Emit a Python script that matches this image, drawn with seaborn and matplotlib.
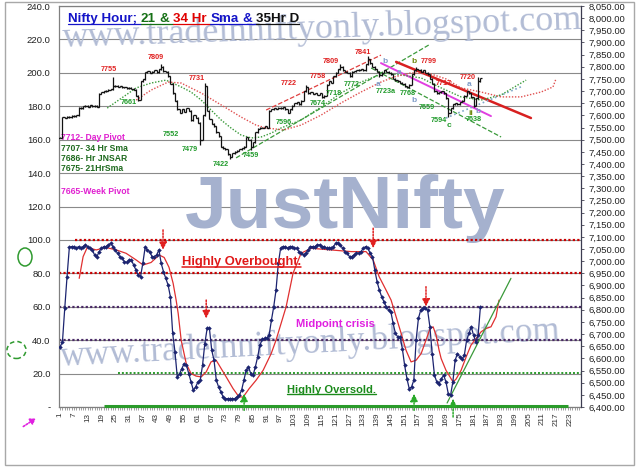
import numpy as np
import pandas as pd
import matplotlib
matplotlib.use("Agg")
import matplotlib.pyplot as plt
import seaborn as sns
from matplotlib import font_manager
from matplotlib.lines import Line2D
from matplotlib.patches import Ellipse, Rectangle, FancyArrowPatch

# hourly Nifty closes, one per bar (right axis)
close = [7507, 7593, 7590, 7595, 7592, 7598, 7596, 7600, 7632, 7630,
         7638, 7640, 7636, 7642, 7638, 7640, 7636, 7688, 7695, 7700,
         7702, 7706, 7708, 7720, 7722, 7718, 7720, 7716, 7715, 7712,
         7714, 7710, 7706, 7680, 7665, 7740, 7748, 7778, 7782, 7775,
         7780, 7785, 7778, 7790, 7800, 7782, 7780, 7760, 7730, 7690,
         7660, 7625, 7610, 7625, 7615, 7630, 7620, 7580, 7600, 7590,
         7570, 7500, 7600, 7720, 7620, 7585, 7565, 7555, 7530, 7515,
         7470, 7465, 7460, 7440, 7430, 7445, 7450, 7455, 7460, 7465,
         7470, 7510, 7500, 7470, 7490, 7530, 7545, 7550, 7548, 7555,
         7550, 7620, 7625, 7630, 7628, 7632, 7630, 7634, 7626, 7610,
         7625, 7640, 7650, 7655, 7645, 7660, 7700, 7715, 7690, 7695,
         7688, 7692, 7685, 7690, 7675, 7680, 7725, 7740, 7735, 7760,
         7775, 7790, 7800, 7785, 7780, 7775, 7760, 7780, 7782, 7785,
         7788, 7790, 7785, 7810, 7830, 7815, 7800, 7790, 7780, 7765,
         7775, 7785, 7780, 7775, 7770, 7750, 7745, 7740, 7735, 7730,
         7720, 7715, 7725, 7770, 7785, 7790, 7788, 7780, 7785, 7775,
         7770, 7750, 7730, 7700, 7690, 7695, 7700, 7690, 7670, 7610,
         7630, 7645, 7650, 7645, 7655, 7660, 7680, 7700, 7690, 7675,
         7640, 7670, 7740, 7752]
# long wicks
wick_hi_bar = [24, 45, 64, 108, 123, 135, 156, 183]
wick_hi_val = [7755, 7809, 7731, 7722, 7809, 7841, 7799, 7755]
wick_lo_bar = [35, 62, 75, 84, 115, 140, 170, 181]
wick_lo_val = [7661, 7479, 7422, 7459, 7674, 7758, 7594, 7638]

# oscillator (left axis), one per bar
osc = [36, 39, 59, 78, 95.5, 96, 96, 95, 96, 95,
       96, 97, 96, 95, 94, 91, 90, 93, 95, 96,
       96, 97, 98, 96, 94, 92, 90, 89, 87, 86.5,
       88, 88, 85, 82, 79, 78, 86, 95.5, 94, 93,
       90, 90, 91, 94, 86, 81, 77, 73, 66, 44,
       33, 18, 20, 23, 26, 25, 20, 15, 10, 12,
       15, 16, 25, 38, 47, 47, 34, 28, 16, 12,
       9, 6, 5, 5, 5, 5, 5, 6, 7, 10,
       16, 22, 24, 20, 19, 24, 30, 37, 40.5, 41,
       41, 43, 52, 60, 70, 86, 95, 96, 96, 95,
       96, 96, 95, 95, 93, 92, 91, 92, 94, 96,
       96, 96, 97, 97, 96, 96, 95, 95, 95, 96,
       98, 98, 97, 95, 93, 92, 90, 90, 91, 92,
       92, 93, 95, 96, 95, 92, 90, 82, 75, 70,
       66, 63, 60, 58, 57, 50, 44, 42, 42, 35,
       25, 17, 11, 12, 16, 40, 53, 58, 59, 59,
       58, 48, 32, 19, 15, 14, 17, 19, 15, 8,
       7, 15, 28, 32, 30, 28.5, 31, 40, 44, 48,
       43, 39, 43, 60]

# smoothed signal of the oscillator
sig_x = [9.3, 11, 12.8, 16.7, 21, 25.4, 29.7, 34.1, 37.1, 40.6, 44.1, 46.3, 48.4,
         50.2, 51.5, 52.4, 53.7, 55.9, 58, 60.2, 62.4, 64.6, 66.7, 68.9, 69.8, 73.3,
         76.3, 78.9, 80.7, 83.3, 86.3, 89.4, 92.9, 95, 97.2, 99.4, 102.4, 105.9, 110.3,
         119, 127.7, 134.2, 137.3, 139.9, 142.9, 145.1, 147.3, 149.5, 151.6, 153.8, 156,
         158.2, 160.3, 162.1, 163.4, 164.7, 166, 166.9, 169, 171.2, 172.1, 173.4, 175.6,
         177.8, 179.9, 182.1, 184.3, 186.5, 188.6, 190.8, 192.1]
sig_v = [77, 90, 95.5, 94, 95.5, 94, 92, 88, 85, 86.5, 91, 89.5, 83.6,
         74, 64, 56, 40, 26, 20, 18.5, 18, 21, 27, 28, 26, 18,
         11, 6, 6, 11, 16, 22, 32, 40, 50, 60, 80, 92, 95,
         94, 93, 93, 88, 78, 70, 64, 54, 44, 34, 27, 28,
         32, 40, 47, 48, 43, 34, 29, 22, 17, 15, 16.7, 22,
         30, 37, 41, 45, 47, 48, 54, 64]

# hourly moving averages (right axis)
sma21_x = [21.5, 34.1, 40.6, 47.1, 53.7, 58.0, 62.4, 66.7, 71.1, 75.4, 79.8, 84.2, 88.5,
           92.9, 97.2, 105.9, 114.6, 123.3, 132.0, 142.1, 149.5, 158.2, 166.9, 175.6,
           184.3, 193.0, 201.7, 203.9]
sma21_p = [7630, 7713, 7733, 7745, 7717, 7696, 7663, 7622, 7581, 7548, 7519, 7507, 7511,
           7527, 7548, 7581, 7634, 7692, 7737, 7774, 7766, 7754, 7713, 7676,
           7663, 7684, 7733, 7745]
sma34_x = [34.1, 40.6, 48.0, 53.7, 62.4, 71.1, 79.8, 86.3, 90.7, 98.5, 105.9, 114.6, 123.3,
           132.0, 140.7, 146.4, 153.8, 162.5, 169.0, 175.6, 184.3, 193.0, 201.7, 210.4,
           215.6, 216.9]
sma34_p = [7663, 7704, 7737, 7733, 7692, 7643, 7593, 7560, 7548, 7540, 7560, 7601, 7651,
           7696, 7737, 7758, 7775, 7770, 7750, 7713, 7696, 7676, 7676, 7696,
           7717, 7750]

# trend lines on the price pane
tl_x0 = [90.7, 77.6, 140.7, 147.3, 136.4, 169.0]
tl_p0 = [7622, 7425, 7815, 7820, 7795, 7589]
tl_x1 = [140.7, 161.6, 188.6, 206.0, 193.0, 202.6]
tl_p1 = [7848, 7890, 7597, 7589, 7511, 7721]
tl_color = ["#e04040", "#3a9a3a", "#e040e0", "#d82020", "#3a9a3a", "#7fa8c8"]
tl_style = ["--", "--", "-", "-", "--", ":"]
tl_width = [0.9, 0.9, 1.4, 1.8, 0.9, 1.2]

# price labels
lab_text = ["7755", "7809", "7731", "7661", "7552", "7479", "7422", "7459", "7596", "7722",
            "7674", "7758", "7718", "7809", "7772", "7841", "a", "b", "7723a", "7768",
            "b", "b", "7799", "7717", "7659", "7594", "c", "7720", "a", "ii", "b", "7638", "a"]
lab_x = [22.3, 42.8, 60.6, 31, 49.3, 57.6, 71, 84.2, 98.5, 100.7,
         113.3, 113.3, 120.3, 119, 128.1, 132.9, 139.4, 142.5, 142.9, 152.5,
         155.2, 155.1, 161.6, 168.2, 160.8, 166, 170.3, 178.6, 179, 179.9, 182.9, 181.2, 148.6]
lab_p = [7787, 7840, 7750, 7651, 7523, 7461, 7396, 7433, 7569, 7733,
         7647, 7758, 7692, 7820, 7725, 7857, 7725, 7820, 7700, 7688,
         7660, 7820, 7820, 7733, 7634, 7577, 7560, 7754, 7729, 7606, 7614, 7581, 7778]
lab_kind = ["r", "r", "r", "g", "g", "g", "g", "g", "g", "r",
            "g", "r", "g", "r", "g", "r", "b", "b", "g", "g",
            "b", "o", "r", "r", "g", "g", "g", "r", "b", "o", "b", "g", "b"]

# level notes on the left
pivot_text = ["7712- Day Pivot", "7707- 34 Hr Sma", "7686- Hr JNSAR", "7675- 21HrSma", "7665-Week Pivot"]
pivot_v = [161, 154.5, 148.5, 143, 129]
pivot_color = ["#e020d0", "#1e6a1e", "#1e6a1e", "#1e6a1e", "#e020d0"]

# signal arrows
red_arrow_x = [45.8, 64.6, 137.3, 160.3]
red_arrow_from = [106, 64, 107, 72]
red_arrow_to = [94, 53, 95, 60]
green_arrow_x = [81.1, 155.1, 172.1]
green_arrow_from = [-2, -2, -6]
green_arrow_to = [8, 8, 5]

title_parts = ["Nifty Hour;", "21", "&", "34 Hr", "Sma", "&", "35Hr D"]
title_colors = ["#1414c8", "#157015", "#157015", "#e00000", "#1414c8", "#1414c8", "#101010"]

sns.set_style("white")
plt.rcParams["font.family"] = ["Liberation Sans", "DejaVu Sans"]

W, H = 640, 467


def fx(px):
    return px / W


def fy(py):
    return 1 - py / H


fig = plt.figure(figsize=(6.4, 4.67), dpi=100)
fig.patch.set_facecolor("white")
ax = fig.add_axes([fx(59), fy(407), fx(581) - fx(59), fy(6) - fy(407)])
ax2 = ax.twinx()

ax.set_xlim(0.5, 227.8)
ax.set_ylim(0, 240)
ax2.set_ylim(6400, 8050)

# watermarks
try:
    font_manager.findfont(font_manager.FontProperties(family="Liberation Sans Narrow", weight="bold"),
                          fallback_to_default=False)
    just_font, just_size = "Liberation Sans Narrow", 66
except ValueError:
    just_font, just_size = "Liberation Sans", 54
wm = "#b2bcd5"
ax.text(fx(322), fy(47), "www.tradeinniftyonly.blogspot.com", transform=fig.transFigure,
        family="Liberation Serif", fontsize=26, color=wm, ha="center", va="baseline",
        rotation=2, zorder=0.6)
ax.text(fx(310), fy(366), "www.tradeinniftyonly.blogspot.com", transform=fig.transFigure,
        family="Liberation Serif", fontsize=25, color=wm, ha="center", va="baseline",
        rotation=3, zorder=0.6)
ax.text(fx(345), fy(228), "JustNifty", transform=fig.transFigure, family=just_font,
        weight="bold", fontsize=just_size, color="#a5b1ce", ha="center", va="baseline", zorder=0.6)

# grid and levels
ax.set_axisbelow(True)
ax.grid(axis="y", color="#8a8a8a", lw=0.8)
ax.grid(axis="x", visible=False)
ax.hlines(100, 7.5, 227.8, colors="#c80000", linestyles=(0, (1, 1)), lw=1.6, zorder=1)
ax.hlines(80, 0.5, 227.8, colors="#c80000", linestyles=(0, (1, 1)), lw=1.6, zorder=1)
ax.hlines([60, 40], 0.5, 227.8, colors="#4a2a66", linestyles=(0, (1, 1)), lw=1.6, zorder=1)
ax.hlines(20.5, 26.3, 227.8, colors="#2a9a2a", linestyles=(0, (1, 1)), lw=1.4, zorder=1)
ax.hlines(0.4, 20, 222, colors="#2a9a2a", lw=2.2, zorder=3, clip_on=False)

# oscillator and its signal
osc_df = pd.DataFrame({"bar": np.arange(1, len(osc) + 1), "value": osc})
sns.lineplot(data=osc_df, x="bar", y="value", ax=ax, color="#1c2470", lw=0.9,
             marker="D", markersize=2.3, markeredgewidth=0, zorder=4)
sig_df = pd.DataFrame({"bar": sig_x, "value": sig_v})
sns.lineplot(data=sig_df, x="bar", y="value", ax=ax, color="#e03030", lw=0.9, zorder=3)
ax.plot([169.5, 197.3], [2.4, 77], color="#3a9a3a", lw=0.9, zorder=3)

# price bars
bars = np.arange(1, len(close) + 1)
opens = [close[0]] + close[:-1]
lo = np.minimum(opens, close).astype(float)
hi = np.maximum(opens, close).astype(float)
for b, v in zip(wick_hi_bar, wick_hi_val):
    hi[b - 1] = max(hi[b - 1], v)
for b, v in zip(wick_lo_bar, wick_lo_val):
    lo[b - 1] = min(lo[b - 1], v)
ax2.vlines(bars, lo - 2, hi + 2, color="#111111", lw=0.9, zorder=5)
ax2.hlines(close, bars, bars + 0.8, color="#111111", lw=0.9, zorder=5)
ax2.hlines(opens, bars - 0.8, bars, color="#111111", lw=0.9, zorder=5)

sma_df = pd.DataFrame({"bar": sma21_x, "p": sma21_p})
sns.lineplot(data=sma_df, x="bar", y="p", ax=ax2, color="#3a9a3a", lw=1.0,
             linestyle=(0, (1, 1.2)), zorder=4)
sma_df = pd.DataFrame({"bar": sma34_x, "p": sma34_p})
sns.lineplot(data=sma_df, x="bar", y="p", ax=ax2, color="#e05050", lw=1.0,
             linestyle=(0, (1, 1.2)), zorder=4)
for x0, p0, x1, p1, c, ls, lw in zip(tl_x0, tl_p0, tl_x1, tl_p1, tl_color, tl_style, tl_width):
    ax2.plot([x0, x1], [p0, p1], color=c, ls=ls, lw=lw, zorder=3)

kind_color = {"r": "#e02020", "g": "#1f9a2a", "b": "#7f9cc8", "o": "#6f8a10"}
for t, x, p, k in zip(lab_text, lab_x, lab_p, lab_kind):
    ax2.text(x, p, t, fontsize=5.2 if len(t) > 2 else 6, weight="bold",
             color=kind_color[k], ha="center", va="center", zorder=6)

# axes and ticks
ax.set_xlabel("")
ax.set_ylabel("")
ax2.set_xlabel("")
ax2.set_ylabel("")
ax.set_xticks(range(1, 224, 6))
ax.set_xticklabels([str(v) for v in range(1, 224, 6)])
ax.set_xticks(np.arange(1, 228), minor=True)
ax.tick_params(axis="x", which="both", length=2.5, width=0.6, color="#909090",
               labelsize=5.9, labelrotation=90, pad=1.5, labelcolor="#333333", bottom=True)
ax.set_yticks(range(0, 241, 20))
ax.set_yticklabels(["-"] + [f"{v:.1f}" for v in range(20, 241, 20)])
ax.tick_params(axis="y", length=0, labelsize=6.8, pad=6, labelcolor="#222222")
ax2.set_yticks(range(6400, 8051, 50))
ax2.set_yticklabels([f"{v:,.2f}" for v in range(6400, 8051, 50)])
ax2.tick_params(axis="y", length=2.5, width=0.6, labelsize=6.8, pad=3,
                color="#404050", labelcolor="#222222")
for s in ["left", "top", "bottom"]:
    ax.spines[s].set_color("#808080")
    ax.spines[s].set_linewidth(0.9)
ax.spines["right"].set_visible(False)
for s in ["left", "top", "bottom"]:
    ax2.spines[s].set_visible(False)
ax2.spines["right"].set_color("#3c3c50")
ax2.spines["right"].set_linewidth(0.9)

# notes
for t, v, c in zip(pivot_text, pivot_v, pivot_color):
    ax.text(1.5, v, t, fontsize=6.2, weight="bold", color=c, ha="left", va="center", zorder=6)

renderer = fig.canvas.get_renderer()
inv = fig.transFigure.inverted()


def ext(t):
    return t.get_window_extent(renderer=renderer).transformed(inv)


def underline(t, color, lw=1.0):
    e = ext(t)
    fig.add_artist(Line2D([e.x0, e.x1], [e.y0 + 1.2 / H, e.y0 + 1.2 / H], color=color, lw=lw))


t = ax.text(79.8, 86.6, "Highly Overbought.", fontsize=9.3, weight="bold", color="#e01818",
            ha="center", va="center", zorder=6)
underline(t, "#e01818", 1.1)
ax.text(120.7, 49.6, "Midpoint crisis", fontsize=8, weight="bold", color="#e020e0",
        ha="center", va="center", zorder=6)
t = ax.text(119, 10, "Highly Oversold.", fontsize=8, weight="bold", color="#1a8a1a",
            ha="center", va="center", zorder=6)
underline(t, "#1a8a1a", 1.0)

for x, y0, y1 in zip(red_arrow_x, red_arrow_from, red_arrow_to):
    ax.annotate("", xy=(x, y1), xytext=(x, y0),
                arrowprops=dict(arrowstyle="-|>,head_length=0.45,head_width=0.22", color="#e02020",
                                lw=1.1, linestyle=(0, (1, 1)), shrinkA=0, shrinkB=0),
                annotation_clip=False, zorder=6)
for x, y0, y1 in zip(green_arrow_x, green_arrow_from, green_arrow_to):
    ax.annotate("", xy=(x, y1), xytext=(x, y0),
                arrowprops=dict(arrowstyle="-|>,head_length=0.45,head_width=0.22", color="#2aaa2a",
                                lw=1.1, linestyle=(0, (1, 1)), shrinkA=0, shrinkB=0),
                annotation_clip=False, zorder=6)

# title
x = fx(68)
gap = 3.7 / W
for i, (part, col) in enumerate(zip(title_parts, title_colors)):
    t = fig.text(x, fy(22), part, fontsize=9.6, weight="bold", color=col, va="baseline", ha="left")
    e = ext(t)
    x_end = e.x1 + (gap if i < len(title_parts) - 1 else 0)
    fig.add_artist(Line2D([x, x_end], [fy(24), fy(24)], color=col, lw=0.9))
    x = e.x1 + gap

# outer decorations
fig.add_artist(Rectangle((fx(5), fy(465)), fx(634) - fx(5), fy(2) - fy(465),
                         transform=fig.transFigure, fill=False, ec="#a8a8a8", lw=1))
fig.add_artist(Ellipse((fx(25), fy(257)), 14 / W, 18 / H, transform=fig.transFigure,
                       fill=False, ec="#2f9a2f", lw=1.1))
fig.add_artist(Ellipse((fx(16.5), fy(350)), 19 / W, 17 / H, transform=fig.transFigure,
                       fill=False, ec="#2f9a2f", lw=1.1, ls=(0, (3, 2))))
fig.add_artist(FancyArrowPatch((fx(21), fy(428)), (fx(38), fy(417)), transform=fig.transFigure,
                               arrowstyle="-|>,head_length=3,head_width=2", color="#e020e0",
                               lw=1.2, linestyle=(0, (1, 1))))

fig.savefig("out.png", dpi=100)
